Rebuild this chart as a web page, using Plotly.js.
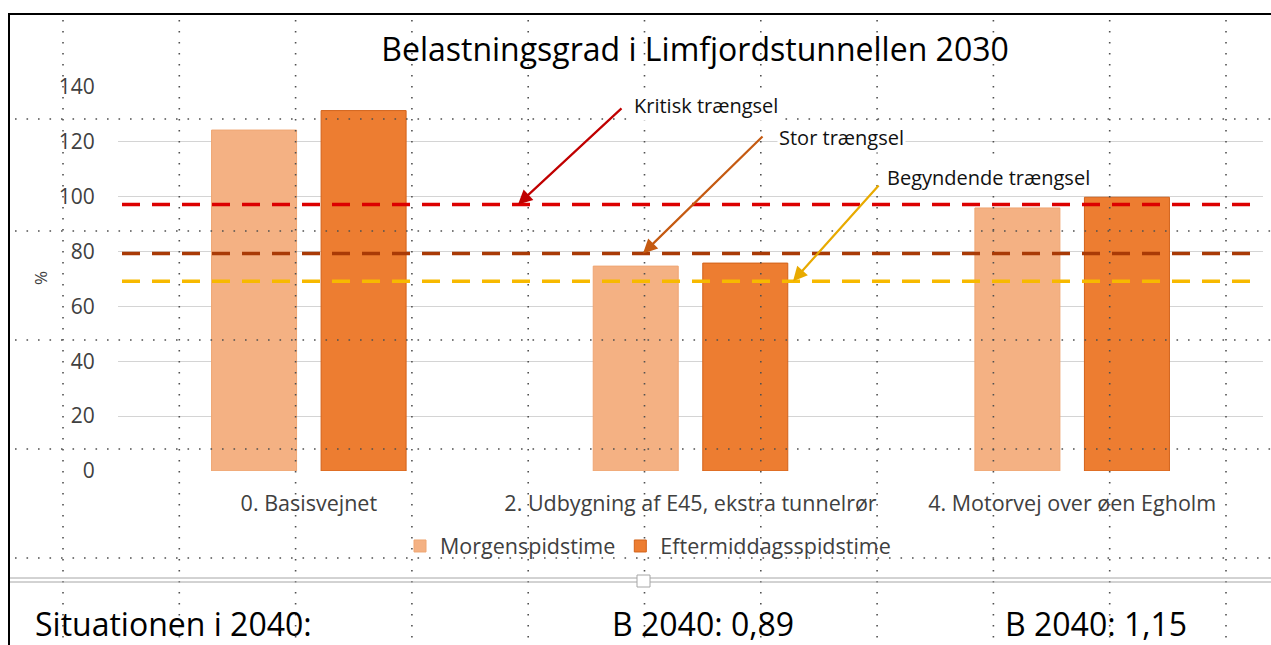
<!DOCTYPE html>
<html>
<head>
<meta charset="utf-8">
<script src="https://cdn.plot.ly/plotly-3.0.1.min.js"></script>
<style>html,body{margin:0;padding:0;background:#fff;}#chart{width:1271px;height:645px;}</style>
</head>
<body>
<div id="chart"></div>
<script>
// ---- data ----
const categories = ["0. Basisvejnet", "2. Udbygning af E45, ekstra tunnelrør", "4. Motorvej over øen Egholm"];
const seriesNames = ["Morgenspidstime", "Eftermiddagsspidstime"];
const morgenValues = [124.3, 74.7, 95.9];
const eftermiddagValues = [131.4, 75.8, 99.8];
const thresholdNames = ["Kritisk trængsel", "Stor trængsel", "Begyndende trængsel"];
const thresholdValues = [97.2, 79.3, 69.2];
const yTicks = [0, 20, 40, 60, 80, 100, 120, 140];
const titleText = "Belastningsgrad i Limfjordstunnellen 2030";
const yTitle = "%";
const footLabels = ["Situationen i 2040:", "B 2040: 0,89", "B 2040: 1,15"];

// ---- geometry helpers (pixel -> paper) ----
const W = 1271, H = 645;
const L = 118, R = 1263, T = 87, B = 471;
const px = x => (x - L) / (R - L);
const py = y => (B - y) / (B - T);

const FONT = "Open Sans, Noto Sans, sans-serif";

const traces = [
  {type: "bar", name: seriesNames[0], x: categories, y: morgenValues,
   marker: {color: "#F4B183", line: {color: "#EFA673", width: 1}}},
  {type: "bar", name: seriesNames[1], x: categories, y: eftermiddagValues,
   marker: {color: "#ED7D31", line: {color: "#D2621A", width: 1}}}
];

const shapes = [];
// editor dotted grid (decoration)
const dotColor = "#505050";
[119, 231, 340, 449, 558].forEach(y => shapes.push({type: "line", xref: "paper", yref: "paper",
  x0: px(15), x1: px(1271), y0: py(y), y1: py(y), line: {color: dotColor, width: 1.6, dash: "1.6px,9.9px"}}));
for (let k = 0; k < 11; k++) {
  const x = 63 + k * 116.3;
  shapes.push({type: "line", xref: "paper", yref: "paper", x0: px(x), x1: px(x), y0: py(20), y1: py(645),
    line: {color: dotColor, width: 1.6, dash: "1.6px,9.4px"}});
}
// threshold dashed lines
const thrColors = ["#DC0000", "#A93A06", "#F7B900"];
thresholdValues.forEach((v, i) => shapes.push({type: "line", xref: "paper", yref: "y",
  x0: px(122), x1: px(1262), y0: v, y1: v, line: {color: thrColors[i], width: 3.5, dash: "18px,12px"}}));
// frame
shapes.push({type: "line", xref: "paper", yref: "paper", x0: px(8), x1: px(1272), y0: py(14), y1: py(14), line: {color: "#000", width: 2}});
shapes.push({type: "line", xref: "paper", yref: "paper", x0: px(9), x1: px(9), y0: py(13), y1: py(646), line: {color: "#000", width: 2}});
shapes.push({type: "line", xref: "paper", yref: "paper", x0: px(10), x1: px(1272), y0: py(578), y1: py(578), line: {color: "#A6A6A6", width: 1}});
shapes.push({type: "line", xref: "paper", yref: "paper", x0: px(10), x1: px(1272), y0: py(582), y1: py(582), line: {color: "#A6A6A6", width: 1}});
shapes.push({type: "rect", xref: "paper", yref: "paper", x0: px(637), x1: px(650), y0: py(575), y1: py(587), line: {color: "#A6A6A6", width: 1}, fillcolor: "#fff"});

const arrowColors = ["#C00000", "#C55A11", "#E8AA00"];
const arrowTipX = [518, 643, 793];
const arrowTail = [[623, 107], [764, 135], [880, 184]];
const textLeft = [[632, 106], [777, 137], [885, 177]];
const annotations = [];
thresholdValues.forEach((v, i) => {
  annotations.push({xref: "paper", yref: "paper", x: px(textLeft[i][0]), y: py(textLeft[i][1]),
    xanchor: "left", yanchor: "middle", text: thresholdNames[i], showarrow: false,
    bgcolor: "#fff", borderpad: 1, font: {family: FONT, size: 20, color: "#111"}});
});
thresholdValues.forEach((v, i) => {
  const tipYpx = B - (v / 140) * (B - T);
  annotations.push({xref: "paper", yref: "y", x: px(arrowTipX[i]), y: v, text: "",
    showarrow: true, axref: "pixel", ayref: "pixel",
    ax: arrowTail[i][0] - arrowTipX[i], ay: arrowTail[i][1] - tipYpx,
    arrowhead: 2, arrowsize: 1.3, arrowwidth: 2.2, arrowcolor: arrowColors[i]});
});
annotations.push({xref: "paper", yref: "paper", x: px(40), y: py(278), xanchor: "center", yanchor: "middle",
  text: yTitle, showarrow: false, textangle: -90, font: {family: FONT, size: 17, color: "#404040"}});
const footX = [33, 610, 1003];
footLabels.forEach((t, i) => annotations.push({xref: "paper", yref: "paper", x: px(footX[i]), y: py(647),
  xanchor: "left", yanchor: "bottom", text: t, showarrow: false, font: {family: FONT, size: 32, color: "#000"}}));

const layout = {
  width: W, height: H,
  margin: {l: L, r: W - R, t: T, b: H - B, pad: 0},
  paper_bgcolor: "#fff", plot_bgcolor: "#fff",
  title: {text: titleText, x: px(695), xref: "paper", xanchor: "center", y: 1 - 50 / H, yanchor: "middle",
    font: {family: FONT, size: 32, color: "#000"}},
  barmode: "group", bargap: 0.426, bargroupgap: 0.224,
  xaxis: {type: "category", categoryorder: "array", categoryarray: categories,
    showgrid: false, showline: false, zeroline: false,
    ticks: "outside", ticklen: 13, tickcolor: "rgba(0,0,0,0)",
    tickfont: {family: FONT, size: 21.5, color: "#404040"}},
  yaxis: {range: [0, 140], tickvals: yTicks, showgrid: true, gridcolor: "#D4D4D4", gridwidth: 1,
    zeroline: false, showline: false, ticks: "outside", ticklen: 18, tickcolor: "rgba(0,0,0,0)",
    tickfont: {family: FONT, size: 21, color: "#404040"}},
  showlegend: true,
  legend: {orientation: "h", x: px(648), xanchor: "center", y: py(546), yanchor: "middle",
    font: {family: FONT, size: 21.5, color: "#404040"}, itemwidth: 30, traceorder: "normal", bgcolor: "rgba(0,0,0,0)"},
  shapes: shapes,
  annotations: annotations
};

Plotly.newPlot("chart", traces, layout, {displayModeBar: false, responsive: false});
</script>
</body>
</html>
